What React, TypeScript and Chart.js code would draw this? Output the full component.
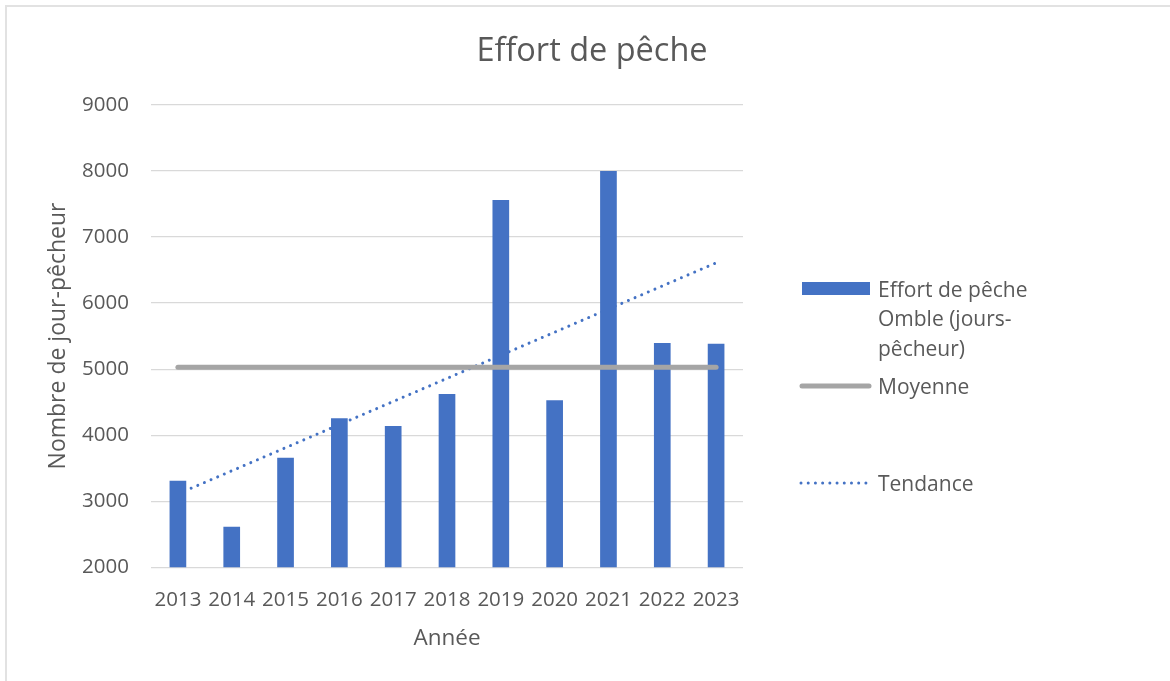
import React, { useEffect, useRef } from "react";
import { Chart, registerables } from "chart.js";

Chart.register(...registerables);

const FONT = "'Open Sans', 'Noto Sans', sans-serif";
const TEXT_COLOR = "#595959";

const years = ["2013", "2014", "2015", "2016", "2017", "2018", "2019", "2020", "2021", "2022", "2023"];
const effort = [3311, 2615, 3659, 4256, 4139, 4624, 7561, 4528, 8000, 5396, 5386];
const moyenne = [5030, 5030, 5030, 5030, 5030, 5030, 5030, 5030, 5030, 5030, 5030];
const tendance = [3111, null, null, null, null, null, null, null, null, null, 6610];

const yMin = 2000;
const yMax = 9000;
const yStep = 1000;

const chartTitle = "Effort de pêche";
const xTitle = "Année";
const yTitle = "Nombre de jour-pêcheur";
const effortLabelLines = ["Effort de pêche", "Omble (jours-", "pêcheur)"];
const moyenneLabel = "Moyenne";
const tendanceLabel = "Tendance";

const BAR_COLOR = "#4472C4";
const AVG_COLOR = "#A5A5A5";

const textPlugin = {
  id: "customText",
  afterDraw(chart: any) {
    const ctx = chart.ctx;
    ctx.save();
    ctx.fillStyle = TEXT_COLOR;
    ctx.textAlign = "center";
    ctx.textBaseline = "middle";
    ctx.font = `32.5px ${FONT}`;
    ctx.fillText(chartTitle, 592, 52);

    ctx.font = `22.5px ${FONT}`;
    ctx.fillText(xTitle, 447, 639);

    ctx.save();
    ctx.translate(58, 336);
    ctx.rotate(-Math.PI / 2);
    ctx.font = `23px ${FONT}`;
    ctx.fillText(yTitle, 0, 0);
    ctx.restore();

    // legend
    ctx.textAlign = "left";
    ctx.font = `21px ${FONT}`;
    ctx.fillStyle = BAR_COLOR;
    ctx.fillRect(802, 282, 68, 13);
    ctx.fillStyle = TEXT_COLOR;
    effortLabelLines.forEach((line, i) => {
      ctx.fillText(line, 878, 291 + i * 29.5);
    });
    ctx.strokeStyle = AVG_COLOR;
    ctx.lineWidth = 5;
    ctx.lineCap = "round";
    ctx.beginPath();
    ctx.moveTo(802, 386);
    ctx.lineTo(869, 386);
    ctx.stroke();
    ctx.fillText(moyenneLabel, 878, 388);
    ctx.strokeStyle = BAR_COLOR;
    ctx.lineWidth = 3;
    ctx.setLineDash([0.01, 7.2]);
    ctx.beginPath();
    ctx.moveTo(801, 483);
    ctx.lineTo(869, 483);
    ctx.stroke();
    ctx.setLineDash([]);
    ctx.fillText(tendanceLabel, 878, 485);
    ctx.restore();
  },
};

function ChartView() {
  const ref = useRef<HTMLCanvasElement | null>(null);
  useEffect(() => {
    if (!ref.current) return;
    const chart = new Chart(ref.current, {
      type: "bar",
      data: {
        labels: years,
        datasets: [
          {
            type: "line",
            label: moyenneLabel,
            data: moyenne,
            borderColor: AVG_COLOR,
            backgroundColor: AVG_COLOR,
            borderWidth: 5,
            borderCapStyle: "round",
            pointRadius: 0,
            order: 0,
          } as any,
          {
            type: "bar",
            label: effortLabelLines.join(" "),
            data: effort,
            backgroundColor: BAR_COLOR,
            borderWidth: 0,
            categoryPercentage: 1,
            barPercentage: 0.31,
            order: 1,
          },
          {
            type: "line",
            label: tendanceLabel,
            data: tendance,
            borderColor: BAR_COLOR,
            backgroundColor: BAR_COLOR,
            borderWidth: 3,
            borderDash: [0.01, 7.2],
            borderCapStyle: "round",
            pointRadius: 0,
            spanGaps: true,
            order: 2,
          } as any,
        ],
      },
      options: {
        animation: false,
        responsive: false,
        devicePixelRatio: 1,
        layout: { padding: { left: 0, right: 427, top: 105, bottom: 0 } },
        plugins: {
          legend: { display: false },
          title: { display: false },
          tooltip: { enabled: false },
        },
        scales: {
          x: {
            grid: { display: false, drawTicks: false },
            border: { display: false },
            ticks: {
              color: TEXT_COLOR,
              font: { family: FONT, size: 20.5 },
              padding: 21,
              maxRotation: 0,
              autoSkip: false,
            },
            afterFit: (s: any) => {
              s.height = 113.7;
            },
          },
          y: {
            min: yMin,
            max: yMax,
            grid: { color: "#D9D9D9", lineWidth: 1.3, drawTicks: false },
            border: { display: false },
            ticks: {
              stepSize: yStep,
              color: TEXT_COLOR,
              font: { family: FONT, size: 20.5 },
              padding: 22,
              callback: (v: any) => String(v),
            },
            afterFit: (s: any) => {
              s.width = 151;
            },
          },
        },
      },
      plugins: [textPlugin],
    });
    return () => chart.destroy();
  }, []);
  return <canvas ref={ref} width={1170} height={681} style={{ display: "block" }} />;
}

export default function App() {
  return (
    <div
      style={{
        position: "fixed",
        left: 0,
        top: 0,
        width: 1170,
        height: 681,
        background: "#fff",
        overflow: "hidden",
      }}
    >
      <div style={{ position: "absolute", left: 0, top: 0 }}>
        <ChartView />
      </div>
      <div
        style={{
          position: "absolute",
          left: 5,
          top: 5,
          width: 1200,
          height: 700,
          border: "2px solid #E2E2E2",
          pointerEvents: "none",
        }}
      />
    </div>
  );
}
